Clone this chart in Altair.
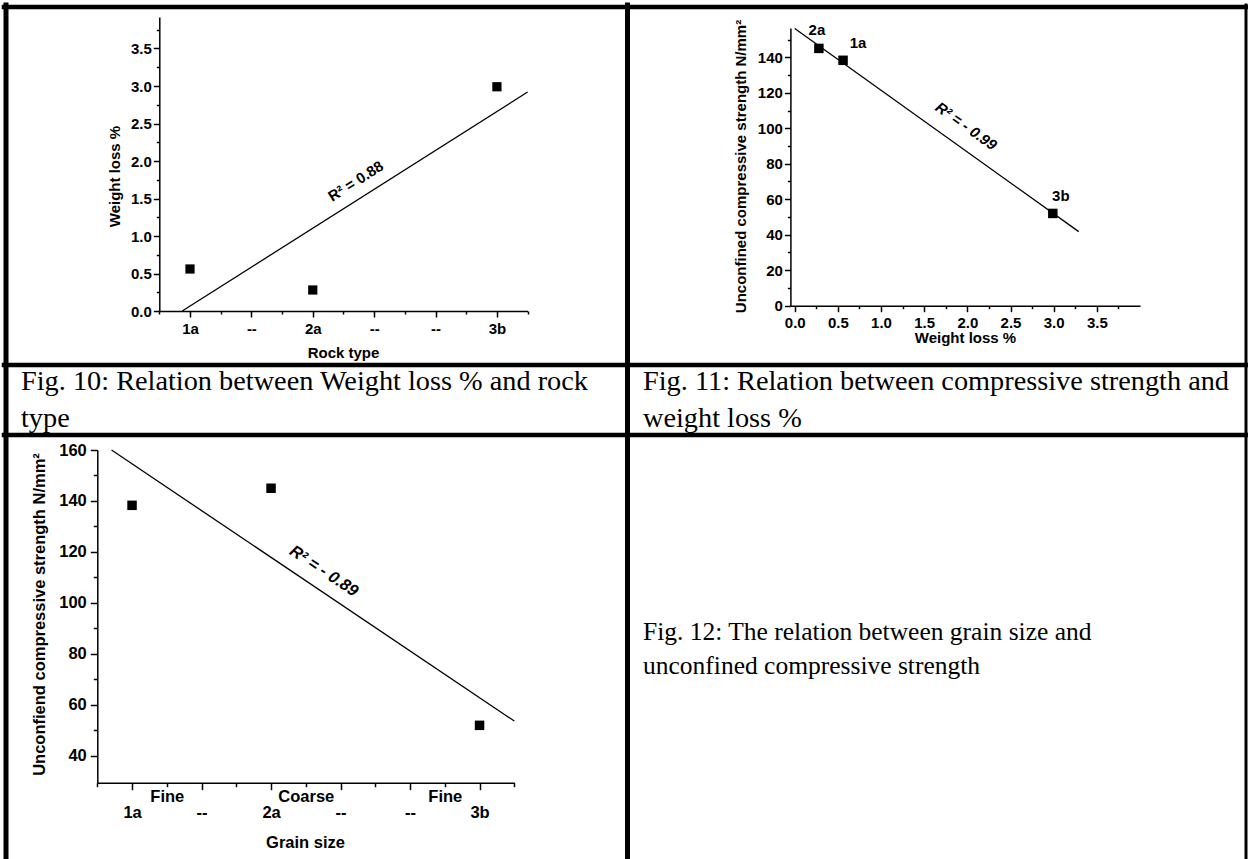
import json
import altair as alt
import pandas as pd

W, H = 1248, 859

# ---------------- data ----------------
rock_types = ["1a", "2a", "3b"]
rock_index = [1, 3, 6]                 # position of each rock on the category axes
weight_loss = [0.56, 0.28, 2.99]       # Weight loss %
ucs = [138.3, 145.0, 52.0]             # Unconfined compressive strength N/mm2
grain_size = ["Fine", "Coarse", "Fine"]

axis_categories = ["1a", "--", "2a", "--", "--", "3b"]
grain_label_ticks = [1.5, 3.5, 5.5]

r2_fig10 = "R\u00b2 = 0.88"
r2_fig11 = "R\u00b2 = - 0.99"
r2_fig12 = "R\u00b2 = - 0.89"

caption10 = ["Fig. 10: Relation between Weight loss % and rock", "type"]
caption11 = ["Fig. 11: Relation between compressive strength and", "weight loss %"]
caption12 = ["Fig. 12: The relation between grain size and", "unconfined compressive strength"]

df = pd.DataFrame({"rock": rock_types, "idx": rock_index, "wl": weight_loss,
                   "ucs": ucs, "grain": grain_size})

FONT = "Liberation Sans"
SERIF = "Liberation Serif"
F1 = 15      # text size in Fig. 10 and 11
F12 = 16.5   # text size in Fig. 12


def axis(size=F1, **kw):
    base = dict(domainColor="black", domainWidth=1.5, tickColor="black", tickWidth=1.5,
                labelFont=FONT, labelFontWeight="bold", labelFontSize=size, labelColor="black",
                labelOverlap=False, labelFlush=False, grid=False,
                titleFont=FONT, titleFontWeight="bold", titleFontSize=size, titleColor="black",
                titleAlign="center", titleBaseline="middle")
    base.update(kw)
    return alt.Axis(**base)


def cond(test, a, b):
    return {"condition": {"test": test, "value": a}, "value": b}


cats_js = json.dumps(axis_categories)
grain_js = json.dumps(grain_size)
gt_js = json.dumps(grain_label_ticks)

base = alt.Chart(df)
layers = []

# ---------------- Fig. 10 ----------------
x10 = alt.Scale(domain=[0.5, 6.5], range=[159.3, 527.6], nice=False, zero=False)
y10 = alt.Scale(domain=[0, 3.92], range=[311, 17], nice=False, zero=False)
ax10x = axis(values=[k / 2 for k in range(1, 14)], orient="bottom", offset=311 - H,
             tickSize=cond("datum.value % 1 === 0", 6, 3), labelPadding=4,
             labelExpr=f"datum.value % 1 === 0 ? {cats_js}[datum.value - 1] : ''",
             title="Rock type", titleX=343, titleY=41)
ax10y = axis(values=[k / 4 for k in range(0, 16)], orient="left", offset=-159.3,
             tickSize=cond("datum.value % 0.5 === 0", 6, 3), labelPadding=2,
             labelExpr="datum.value % 0.5 === 0 ? format(datum.value, '.1f') : ''",
             title="Weight loss %", titleX=-44.5, titleY=176, titleAngle=270)
layers.append(base.mark_square(size=85, color="black", opacity=1).encode(
    x=alt.X("idx:Q", scale=x10, axis=ax10x), y=alt.Y("wl:Q", scale=y10, axis=ax10y)))
layers.append(base.transform_regression("idx", "wl", extent=[0.873, 6.5]).mark_line(
    color="black", strokeWidth=1.3).encode(
    x=alt.X("idx:Q", scale=x10, axis=None), y=alt.Y("wl:Q", scale=y10, axis=None)))
layers.append(alt.Chart(alt.Data(values=[{"x": 3.70, "y": 1.73, "t": r2_fig10}])).mark_text(
    font=FONT, fontWeight="bold", fontSize=F1, angle=327.6, color="black").encode(
    x=alt.X("x:Q", scale=x10, axis=None), y=alt.Y("y:Q", scale=y10, axis=None), text="t:N"))

# ---------------- Fig. 11 ----------------
x11 = alt.Scale(domain=[-0.05, 4.0], range=[790.4, 1140], nice=False, zero=False)
y11 = alt.Scale(domain=[0, 156.5], range=[305.7, 28], nice=False, zero=False)
ax11x = axis(values=[k / 4 for k in range(0, 16)], orient="bottom", offset=305.7 - H,
             tickSize=cond("datum.value % 0.5 === 0", 6, 3), labelPadding=4,
             labelExpr="datum.value % 0.5 === 0 ? format(datum.value, '.1f') : ''",
             title="Weight loss %", titleX=965, titleY=32)
ax11y = axis(values=list(range(0, 151, 10)), orient="left", offset=-790.4,
             tickSize=cond("datum.value % 20 === 0", 6, 3), labelPadding=2,
             labelExpr="datum.value % 20 === 0 ? format(datum.value, 'd') : ''",
             title="Unconfined compressive strength N/mm\u00b2", titleX=-50, titleY=166,
             titleAngle=270)
layers.append(base.mark_square(size=90, color="black", opacity=1).encode(
    x=alt.X("wl:Q", scale=x11, axis=ax11x), y=alt.Y("ucs:Q", scale=y11, axis=ax11y)))
layers.append(base.transform_regression("wl", "ucs", extent=[0.0, 3.29]).mark_line(
    color="black", strokeWidth=1.3).encode(
    x=alt.X("wl:Q", scale=x11, axis=None), y=alt.Y("ucs:Q", scale=y11, axis=None)))
for rock, dx, dy in [("2a", -2, -18), ("1a", 15, -17), ("3b", 8, -17)]:
    layers.append(base.transform_filter(alt.datum.rock == rock).mark_text(
        font=FONT, fontWeight="bold", fontSize=F1, dx=dx, dy=dy, color="black").encode(
        x=alt.X("wl:Q", scale=x11, axis=None), y=alt.Y("ucs:Q", scale=y11, axis=None),
        text="rock:N"))
layers.append(alt.Chart(alt.Data(values=[{"x": 1.985, "y": 101.2, "t": r2_fig11}])).mark_text(
    font=FONT, fontWeight="bold", fontStyle="italic", fontSize=F1, angle=35.5, color="black").encode(
    x=alt.X("x:Q", scale=x11, axis=None), y=alt.Y("y:Q", scale=y11, axis=None), text="t:N"))

# ---------------- Fig. 12 ----------------
x12 = alt.Scale(domain=[0.5, 6.5], range=[97.3, 514.3], nice=False, zero=False)
y12 = alt.Scale(domain=[29.5, 160], range=[782.7, 450], nice=False, zero=False)
ax12x = axis(size=F12, values=[k / 2 for k in range(1, 14)], orient="bottom", offset=782.7 - H,
             tickSize=cond("datum.value % 1 === 0", 7, 4),
             labelPadding=cond("datum.value % 1 === 0", 15, 2),
             labelExpr=(f"datum.value % 1 === 0 ? {cats_js}[datum.value - 1] : "
                        f"(indexof({gt_js}, datum.value) >= 0 ? {grain_js}[indexof({gt_js}, datum.value)] : '')"),
             title="Grain size", titleX=305, titleY=60)
ax12y = axis(size=F12, values=list(range(40, 161, 10)), orient="left", offset=-97.3,
             tickSize=cond("datum.value % 20 === 0", 7, 4), labelPadding=4,
             labelExpr="datum.value % 20 === 0 ? format(datum.value, 'd') : ''",
             title="Unconfiend compressive strength N/mm\u00b2", titleX=-58, titleY=614,
             titleAngle=270)
layers.append(base.mark_square(size=90, color="black", opacity=1).encode(
    x=alt.X("idx:Q", scale=x12, axis=ax12x), y=alt.Y("ucs:Q", scale=y12, axis=ax12y)))
layers.append(base.transform_regression("idx", "ucs", extent=[0.705, 6.5]).mark_line(
    color="black", strokeWidth=1.3).encode(
    x=alt.X("idx:Q", scale=x12, axis=None), y=alt.Y("ucs:Q", scale=y12, axis=None)))
layers.append(alt.Chart(alt.Data(values=[{"x": 3.76, "y": 112.5, "t": r2_fig12}])).mark_text(
    font=FONT, fontWeight="bold", fontStyle="italic", fontSize=F12, angle=33.6, color="black").encode(
    x=alt.X("x:Q", scale=x12, axis=None), y=alt.Y("y:Q", scale=y12, axis=None), text="t:N"))

# ---------------- table frame and captions ----------------
one = alt.Data(values=[{}])
frame = [  # (x, y, x2, y2, width)
    (4, 7, 1247, 7, 4.5),
    (4, 365, 1247, 365, 4.5),
    (4, 435, 1247, 435, 4.5),
    (6, 5, 6, 859, 5),
    (627.5, 5, 627.5, 859, 5),
    (1246, 5, 1246, 859, 3),
]
for fx, fy, fx2, fy2, sw in frame:
    layers.append(alt.Chart(one).mark_rule(color="black", strokeWidth=sw, strokeCap="square").encode(
        x=alt.value(fx), y=alt.value(fy), x2=alt.value(fx2), y2=alt.value(fy2)))

for lines, cx, cy, fs, lh in [(caption10, 21, 390, 28.3, 37), (caption11, 643, 390, 28.3, 37),
                              (caption12, 643, 640, 25.5, 34)]:
    layers.append(alt.Chart(one).mark_text(
        text=lines, font=SERIF, fontSize=fs, lineHeight=lh, align="left",
        baseline="alphabetic", color="black").encode(x=alt.value(cx), y=alt.value(cy)))

chart = alt.layer(*layers).properties(
    width=W, height=H, autosize="none", padding=0
).resolve_scale(x="independent", y="independent").configure_view(stroke=None)

chart.save("out.html", embed_options={"renderer": "svg", "actions": False})
